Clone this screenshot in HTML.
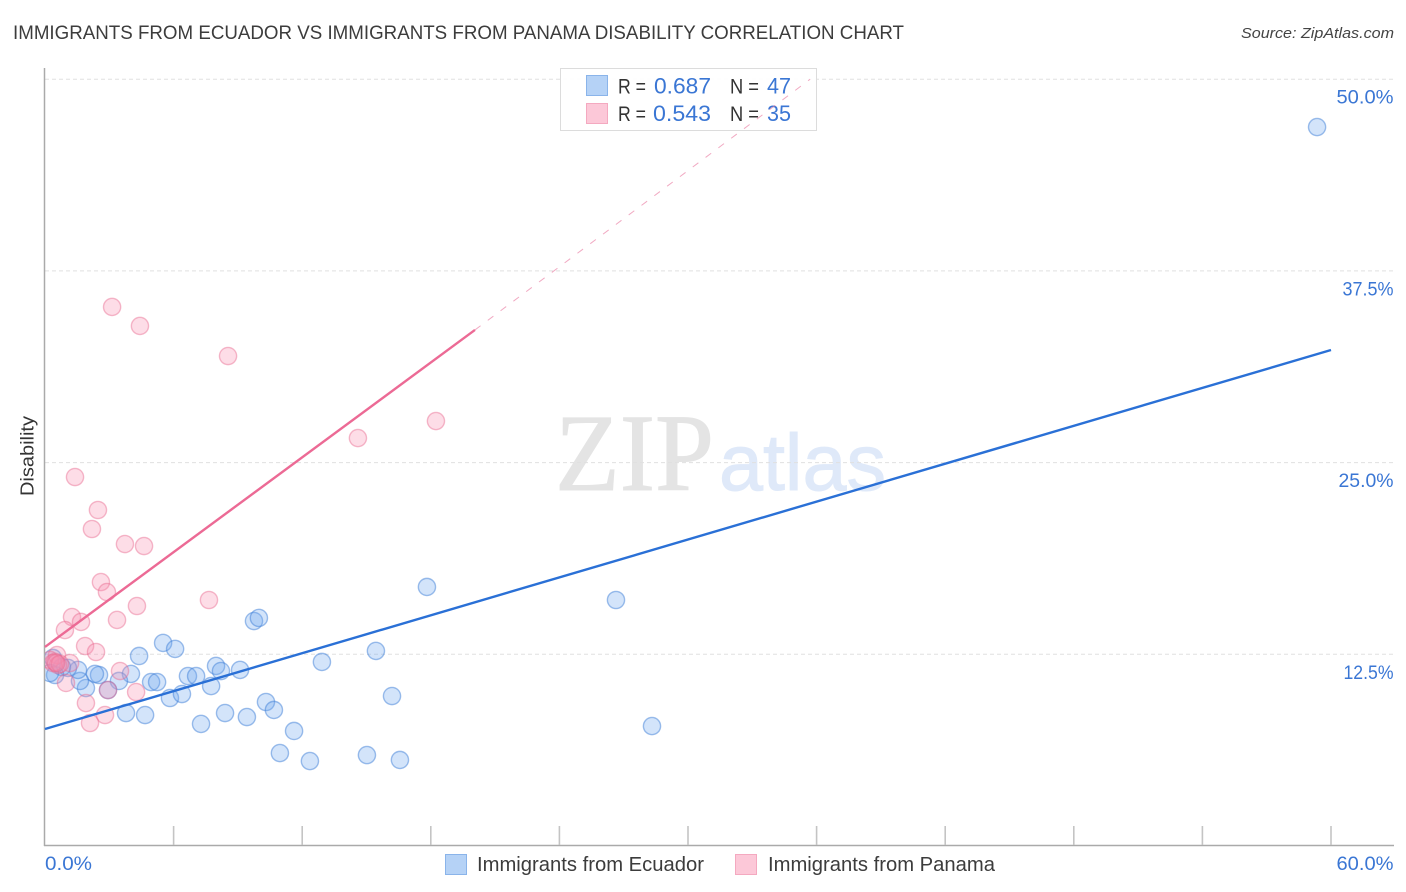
<!DOCTYPE html>
<html lang="en">
<head>
<meta charset="utf-8">
<title>Immigrants from Ecuador vs Immigrants from Panama Disability Correlation Chart</title>
<style>
html,body{margin:0;padding:0;background:#fff;}
body{width:1406px;height:892px;overflow:hidden;}
svg{display:block;font-family:"Liberation Sans",sans-serif;}
</style>
</head>
<body>
<svg id="chart" width="1406" height="892" viewBox="0 0 1406 892" xmlns="http://www.w3.org/2000/svg">
  <defs><clipPath id="plot-clip"><rect x="45" y="60" width="1350" height="786"/></clipPath></defs>
  <text x="13" y="39" font-size="19" fill="#3c3c3c" textLength="891" lengthAdjust="spacingAndGlyphs">IMMIGRANTS FROM ECUADOR VS IMMIGRANTS FROM PANAMA DISABILITY CORRELATION CHART</text>
  <text x="1241" y="38" font-size="15" font-style="italic" fill="#444" textLength="153" lengthAdjust="spacingAndGlyphs">Source: ZipAtlas.com</text>

  <g>
    <text x="555" y="490" font-family="'Liberation Serif',serif" font-size="110" fill="#e4e4e4" stroke="#e4e4e4" stroke-width="1" textLength="159" lengthAdjust="spacingAndGlyphs">ZIP</text>
    <text x="719" y="490" font-family="'Liberation Sans',sans-serif" font-size="80" fill="#dfe9f9" stroke="#dfe9f9" stroke-width="1" textLength="167" lengthAdjust="spacingAndGlyphs">atlas</text>
  </g>

  <g id="grid"></g>
  <g id="axes">
    <line x1="44.5" y1="68" x2="44.5" y2="846" stroke="#aaa" stroke-width="1.5"/>
    <line x1="44" y1="845.5" x2="1394" y2="845.5" stroke="#aaa" stroke-width="1.5"/>
  </g>
  <g id="x-ticks"></g>
  <g id="y-labels"></g>
  <g id="x-labels"></g>
  <text transform="translate(33.5,456) rotate(-90)" text-anchor="middle" font-size="18" fill="#333" textLength="80" lengthAdjust="spacingAndGlyphs">Disability</text>

  <g id="points-ecuador" clip-path="url(#plot-clip)"></g>
  <g id="points-panama" clip-path="url(#plot-clip)"></g>

  <g>
    <rect x="560.5" y="68.5" width="256" height="62" fill="#fff" fill-opacity="0.92" stroke="#dcdcdc" stroke-width="1"/>
    <rect x="586.5" y="75.5" width="21" height="20" fill="#b5d2f6" stroke="#8ab4ea" stroke-width="1"/>
    <rect x="586.5" y="103.5" width="21" height="20" fill="#fcc8d8" stroke="#f4a9c0" stroke-width="1"/>
    <text x="618" y="93.5" font-size="21" fill="#333" textLength="28" lengthAdjust="spacingAndGlyphs">R =</text>
    <text x="654" y="93.5" font-size="22" fill="#3a76d4" textLength="57" lengthAdjust="spacingAndGlyphs">0.687</text>
    <text x="730" y="93.5" font-size="21" fill="#333" textLength="29" lengthAdjust="spacingAndGlyphs">N =</text>
    <text x="767" y="93.5" font-size="22" fill="#3a76d4" textLength="24" lengthAdjust="spacingAndGlyphs">47</text>
    <text x="618" y="121" font-size="21" fill="#333" textLength="28" lengthAdjust="spacingAndGlyphs">R =</text>
    <text x="653" y="121" font-size="22" fill="#3a76d4" textLength="58" lengthAdjust="spacingAndGlyphs">0.543</text>
    <text x="730" y="121" font-size="21" fill="#333" textLength="29" lengthAdjust="spacingAndGlyphs">N =</text>
    <text x="767" y="121" font-size="22" fill="#3a76d4" textLength="24" lengthAdjust="spacingAndGlyphs">35</text>
  </g>

  <g id="trend-lines"></g>

  <g>
    <rect x="445.5" y="854.5" width="21" height="20" fill="#b5d2f6" stroke="#8ab4ea" stroke-width="1"/>
    <text x="477" y="871" font-size="20" fill="#3c3c3c" textLength="227" lengthAdjust="spacingAndGlyphs">Immigrants from Ecuador</text>
    <rect x="735.5" y="854.5" width="21" height="20" fill="#fcc8d8" stroke="#f4a9c0" stroke-width="1"/>
    <text x="768" y="871" font-size="20" fill="#3c3c3c" textLength="227" lengthAdjust="spacingAndGlyphs">Immigrants from Panama</text>
  </g>
</svg>
<script>
const ecuadorX = [4.39,5.51,6.07,9.75,9.98,4.01,3.45,2.94,2.52,2.33,1.91,1.63,1.54,1.07,0.79,0.37,0.47,0.23,4.95,5.23,5.83,6.39,6.67,7.05,7.75,7.98,8.21,9.10,10.31,10.68,8.40,9.42,7.28,3.78,4.67,11.62,10.96,12.92,15.44,16.19,17.82,26.64,28.32,59.35,12.36,15.02,16.56];
const ecuadorY = [12.39,13.24,12.85,14.67,14.87,11.22,10.76,10.17,11.15,11.22,10.30,10.76,11.48,11.61,11.67,12.26,11.15,11.28,10.69,10.69,9.65,9.91,11.08,11.08,10.43,11.74,11.41,11.48,9.39,8.87,8.67,8.41,7.96,8.67,8.54,7.50,6.06,12.00,12.72,9.78,16.89,16.04,7.82,46.88,5.54,5.93,5.61];
const panamaX = [2.61,2.89,4.29,7.65,1.26,1.68,0.93,3.36,1.87,2.38,0.56,3.50,1.17,0.98,4.25,2.94,1.91,2.80,2.10,0.23,0.37,0.61,0.47,0.70,0.52,3.13,4.43,8.54,14.60,18.24,1.40,2.47,2.19,3.73,4.62];
const panamaY = [17.21,16.56,15.65,16.04,14.93,14.61,14.08,14.74,13.04,12.65,12.45,11.41,11.93,10.63,10.04,10.17,9.32,8.54,8.02,12.13,11.93,11.80,12.00,11.87,11.93,35.15,33.91,31.95,26.60,27.71,24.06,21.91,20.67,19.69,19.56];
const ecuadorTrendX = [0,60];
const ecuadorTrendY = [7.63,32.34];
const panamaTrendX = [0,20.06];
const panamaTrendY = [12.98,33.65];
const panamaDashedX = [20.06,35.7];
const panamaDashedY = [33.65,50];
const yTickValues = [12.5,25,37.5,50];
const yTickLabels = ["12.5%","25.0%","37.5%","50.0%"];
const xTickValues = [6,12,18,24,30,36,42,48,54,60];
const xEndValues = [0,60];
const xEndLabels = ["0.0%","60.0%"];

const SVG_NS = "http://www.w3.org/2000/svg";
const labelWidths = {"12.5%":50,"25.0%":55,"37.5%":51,"50.0%":57,"0.0%":47,"60.0%":57};
function xScale(v){ return 45 + v * (1286/60); }
function yScale(v){ return 846 - v * (766.8/50); }
function make(tag, attrs, parent){
  const el = document.createElementNS(SVG_NS, tag);
  Object.keys(attrs).forEach(function(k){ el.setAttribute(k, attrs[k]); });
  parent.appendChild(el);
  return el;
}

const gridGroup = document.getElementById("grid");
const yLabelGroup = document.getElementById("y-labels");
yTickValues.forEach(function(v,i){
  const gl = make("line",{x1:45,x2:1393,y1:yScale(v),y2:yScale(v),stroke:"#e0e0e0","stroke-width":1,"stroke-dasharray":"4 3"},gridGroup);
  
  
  const t = make("text",{x:1393.5,y:yScale(v)+24.5,"text-anchor":"end","font-size":19.5,fill:"#3a76d4",textLength:labelWidths[yTickLabels[i]]||55,lengthAdjust:"spacingAndGlyphs"},yLabelGroup);
  
  
  t.textContent = yTickLabels[i];
});

const xTickGroup = document.getElementById("x-ticks");
xTickValues.forEach(function(v){
  const tk = make("line",{x1:xScale(v),x2:xScale(v),y1:826,y2:845,stroke:"#c4c4c4","stroke-width":1.6},xTickGroup);
  
  
});

const xLabelGroup = document.getElementById("x-labels");
xEndValues.forEach(function(v,i){
  const first = i === 0;
  const t = make("text",{x:first?xScale(v):xScale(v)+62.5,y:870,"text-anchor":first?"start":"end","font-size":19.5,fill:"#3a76d4",textLength:labelWidths[xEndLabels[i]]||55,lengthAdjust:"spacingAndGlyphs"},xLabelGroup);
  
  
  t.textContent = xEndLabels[i];
});

const ecuadorGroup = document.getElementById("points-ecuador");
ecuadorX.forEach(function(v,i){
  const c = make("circle",{cx:xScale(v),cy:yScale(ecuadorY[i]),r:8.6,fill:"#6ea6ee","fill-opacity":0.3,stroke:"#3f7fd8","stroke-opacity":0.5,"stroke-width":1.4},ecuadorGroup);
  
  
});

const panamaGroup = document.getElementById("points-panama");
panamaX.forEach(function(v,i){
  const c = make("circle",{cx:xScale(v),cy:yScale(panamaY[i]),r:8.6,fill:"#f78fae","fill-opacity":0.3,stroke:"#e9688f","stroke-opacity":0.45,"stroke-width":1.4},panamaGroup);
  
  
});

const trendGroup = document.getElementById("trend-lines");
const dashedLine = make("line",{x1:xScale(panamaDashedX[0]),y1:yScale(panamaDashedY[0]),x2:xScale(panamaDashedX[1]),y2:yScale(panamaDashedY[1]),stroke:"#e8709a","stroke-opacity":0.6,"stroke-width":1,"stroke-dasharray":"7 9"},trendGroup);


const panamaLine = make("line",{x1:xScale(panamaTrendX[0]),y1:yScale(panamaTrendY[0]),x2:xScale(panamaTrendX[1]),y2:yScale(panamaTrendY[1]),stroke:"#ec6a95","stroke-width":2.4},trendGroup);


const ecuadorLine = make("line",{x1:xScale(ecuadorTrendX[0]),y1:yScale(ecuadorTrendY[0]),x2:xScale(ecuadorTrendX[1]),y2:yScale(ecuadorTrendY[1]),stroke:"#2a70d6","stroke-width":2.4},trendGroup);


</script>
</body>
</html>
